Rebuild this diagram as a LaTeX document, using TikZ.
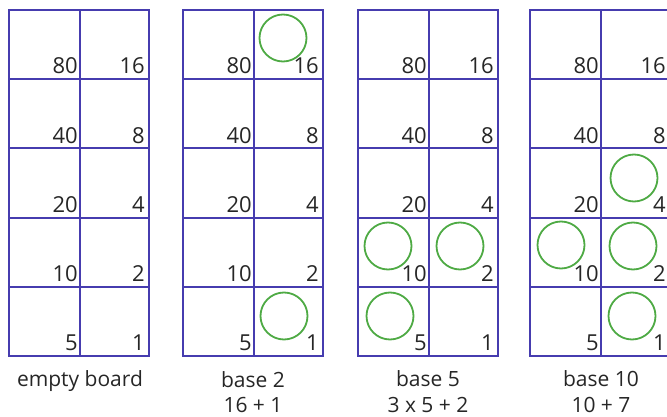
\documentclass[tikz,border=0pt]{standalone}
\usepackage{fontspec}
\setmainfont{Open Sans}
\definecolor{boardblue}{RGB}{70,60,175}
\definecolor{beadgreen}{RGB}{78,170,68}
\tikzset{
  grid line/.style={draw=boardblue, line width=1.8pt},
  cellnum/.style={anchor=base east, inner sep=0pt, text=black!85, font=\fontsize{22}{26}\selectfont},
  caption/.style={anchor=base, inner sep=0pt, text=black!85, font=\fontsize{21}{26}\selectfont},
  bead/.style={circle, draw=beadgreen, line width=1.8pt, minimum size=47pt, inner sep=0pt}
}
\begin{document}
\begin{tikzpicture}[x=1pt,y=-1pt]
    \useasboundingbox (0,0) rectangle (667,417);
    \foreach \bx/\bn in {9/a,183/b,358/c,530/d} {
      \draw[grid line] (\bx,10) rectangle (\bx+140,356);
      \draw[grid line] (\bx+71,10) -- (\bx+71,356);
      \foreach \r in {1,...,4} \draw[grid line] (\bx,10+69.2*\r) -- (\bx+140,10+69.2*\r);
      \foreach \lv/\rv [count=\i from 0] in {80/16,40/8,20/4,10/2,5/1} {
        \node[cellnum] (\bn l\i) at (\bx+69,10+69.2*\i+64) {\lv};
        \node[cellnum] (\bn r\i) at (\bx+136,10+69.2*\i+64) {\rv};
      }
    }
    \node[caption] (capa) at (80,386) {empty board};
    \node[caption] (capb) at (253,387) {base 2};
    \node[caption] (sumb) at (253,412) {16 + 1};
    \node[caption] (capc) at (428,386) {base 5};
    \node[caption] (sumc) at (428,412) {3 x 5 + 2};
    \node[caption] (capd) at (601,386) {base 10};
    \node[caption] (sumd) at (601,412) {10 + 7};
    \node[bead] (b16) at (283,38) {};
    \node[bead] (b1) at (284,316) {};
    \node[bead] (c10) at (388,246) {};
    \node[bead] (c2) at (460,246) {};
    \node[bead] (c5) at (390,316) {};
    \node[bead] (d4) at (634,178) {};
    \node[bead] (d10) at (561,245) {};
    \node[bead] (d2) at (633,246) {};
    \node[bead] (d1) at (632,316) {};
\end{tikzpicture}
\end{document}
